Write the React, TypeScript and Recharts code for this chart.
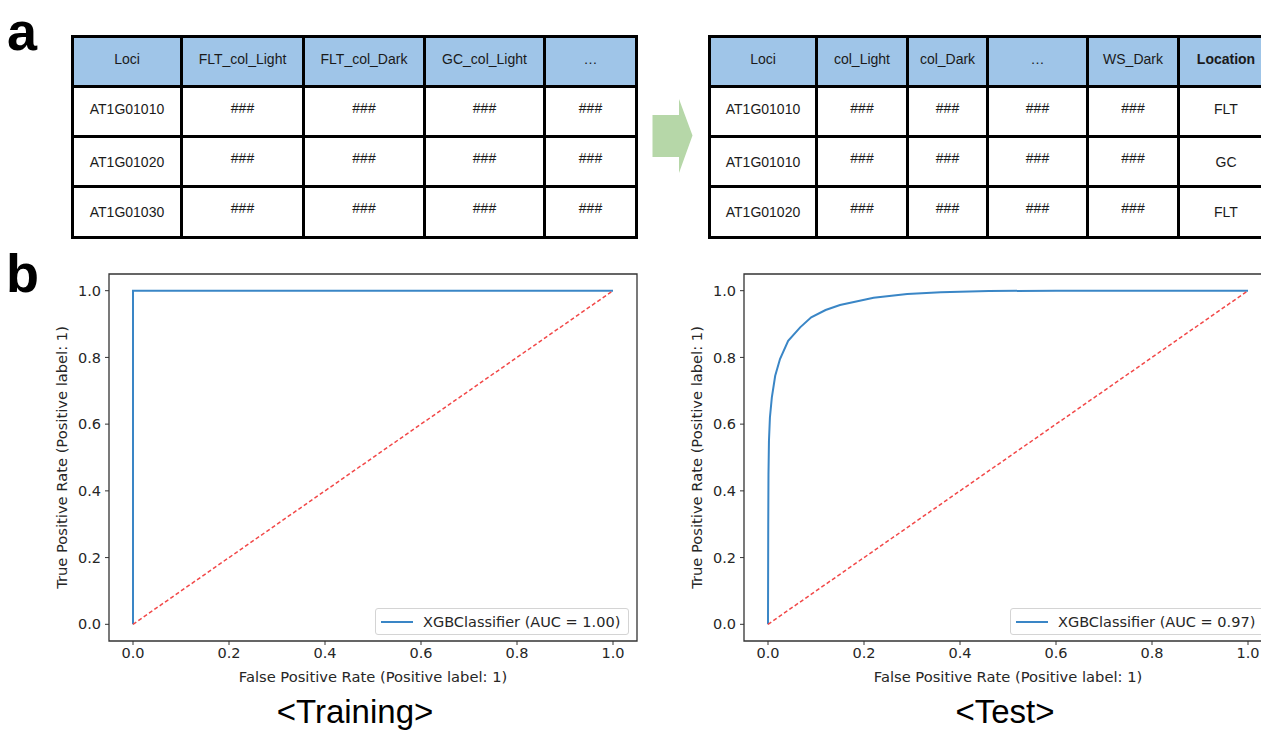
import React from "react";
import { LineChart, Line, XAxis, YAxis, ReferenceArea, Legend } from "recharts";

// ROC values
const ticks = [0, 0.2, 0.4, 0.6, 0.8, 1.0];
const trainFpr = [0, 0, 1];
const trainTpr = [0, 1, 1];
const testFpr = [0, 0.0005, 0.001, 0.002, 0.004, 0.008, 0.015, 0.025, 0.042, 0.067, 0.09, 0.12, 0.15, 0.22, 0.29, 0.36, 0.46, 0.6, 0.8, 1];
const testTpr = [0, 0.3, 0.45, 0.55, 0.62, 0.68, 0.745, 0.795, 0.85, 0.89, 0.92, 0.942, 0.957, 0.979, 0.99, 0.995, 0.999, 1, 1, 1];
const chanceFpr = [0, 1];
const chanceTpr = [0, 1];
const trainLegend = "XGBClassifier (AUC = 1.00)";
const testLegend = "XGBClassifier (AUC = 0.97)";
const xTitle = "False Positive Rate (Positive label: 1)";
const yTitle = "True Positive Rate (Positive label: 1)";

// table contents
const leftHeaders = ["Loci", "FLT_col_Light", "FLT_col_Dark", "GC_col_Light", "…"];
const leftLoci = ["AT1G01010", "AT1G01020", "AT1G01030"];
const rightHeaders = ["Loci", "col_Light", "col_Dark", "…", "WS_Dark", "Location"];
const rightLoci = ["AT1G01010", "AT1G01010", "AT1G01020"];
const rightLocation = ["FLT", "GC", "FLT"];

const BLUE = "#3a86c6";
const RED = "#f24848";
const AXIS = "#333";
const SANS = "'Liberation Sans', Arial, sans-serif";
const DJ = "'DejaVu Sans', sans-serif";

const toPts = (xs: number[], ys: number[]) => xs.map((x, i) => ({ x, y: ys[i] }));

function LegendBox({ label }: { label: string }) {
  return (
    <div
      style={{
        display: "flex",
        alignItems: "center",
        height: 27,
        width: 254,
        boxSizing: "border-box",
        paddingLeft: 5,
        border: "1px solid #d4d4d4",
        borderRadius: 3,
        background: "rgba(255,255,255,0.85)",
        fontFamily: DJ,
        fontSize: 14.5,
        color: "#262626",
        whiteSpace: "nowrap",
      }}
    >
      <svg width={32} height={4}>
        <line x1={0} y1={2} x2={32} y2={2} stroke={BLUE} strokeWidth={2} />
      </svg>
      <span style={{ marginLeft: 10 }}>{label}</span>
    </div>
  );
}

function RocChart({
  fpr,
  tpr,
  legend,
  marginLeft,
  marginRight,
  legendLeft,
}: {
  fpr: number[];
  tpr: number[];
  legend: string;
  marginLeft: number;
  marginRight: number;
  legendLeft: number;
}) {
  const tickStyle = { fontFamily: DJ, fontSize: 14.5, fill: "#262626" };
  const titleStyle = { fontFamily: DJ, fontSize: 14.7, fill: "#262626" };
  return (
    <LineChart
      width={660}
      height={450}
      margin={{ top: 24, right: marginRight, bottom: 9, left: marginLeft }}
    >
      <XAxis
        type="number"
        dataKey="x"
        domain={[-0.05, 1.05]}
        ticks={ticks}
        tickFormatter={(v: number) => v.toFixed(1)}
        tick={tickStyle}
        tickSize={4}
        tickMargin={3}
        axisLine={false}
        tickLine={{ stroke: AXIS }}
        height={50}
        label={{
          value: xTitle,
          position: "insideBottom",
          offset: 9,
          style: titleStyle,
        }}
      />
      <YAxis
        type="number"
        dataKey="y"
        domain={[-0.05, 1.05]}
        ticks={ticks}
        tickFormatter={(v: number) => v.toFixed(1)}
        tick={tickStyle}
        tickSize={4}
        tickMargin={4}
        axisLine={false}
        tickLine={{ stroke: AXIS }}
        width={69}
        label={{
          value: yTitle,
          angle: -90,
          position: "insideLeft",
          offset: 22,
          style: { ...titleStyle, textAnchor: "middle" },
        }}
      />
      <ReferenceArea x1={-0.05} x2={1.05} y1={-0.05} y2={1.05} fill="none" stroke={AXIS} strokeWidth={1.3} />
      <Line
        data={toPts(fpr, tpr)}
        dataKey="y"
        type="linear"
        stroke={BLUE}
        strokeWidth={2}
        dot={false}
        isAnimationActive={false}
      />
      <Line
        data={toPts(chanceFpr, chanceTpr)}
        dataKey="y"
        type="linear"
        stroke={RED}
        strokeWidth={1.5}
        strokeDasharray="4 2.5"
        dot={false}
        legendType="none"
        isAnimationActive={false}
      />
      <Legend
        layout="vertical"
        align="center"
        verticalAlign="middle"
        wrapperStyle={{ left: legendLeft, top: 358, width: 254 }}
        content={() => <LegendBox label={legend} />}
      />
    </LineChart>
  );
}

function Table({
  left,
  widths,
  heads,
  rows,
  boldLast,
}: {
  left: number;
  widths: number[];
  heads: string[];
  rows: string[][];
  boldLast?: boolean;
}) {
  const cell = (txt: string, key: string, head: boolean, bold: boolean, lift: number) => (
    <div
      key={key}
      style={{
        background: head ? "#9fc5e8" : "#fff",
        display: "flex",
        alignItems: "center",
        justifyContent: "center",
        fontFamily: SANS,
        fontSize: 14,
        fontWeight: bold ? 700 : 400,
        color: "#1a1a1a",
        whiteSpace: "nowrap",
        overflow: "hidden",
        paddingBottom: lift * 2,
        boxSizing: "border-box",
      }}
    >
      {txt}
    </div>
  );
  return (
    <div
      style={{
        position: "absolute",
        left,
        top: 35,
        display: "grid",
        gridTemplateColumns: widths.map((w) => w + "px").join(" "),
        gridTemplateRows: "47px 47px 47px 48px",
        gap: 3,
        padding: 3,
        background: "#000",
      }}
    >
      {heads.map((h, i) => cell(h, "h" + i, true, !!boldLast && i === heads.length - 1, 3))}
      {rows.map((r, ri) =>
        r.map((v, ci) =>
          cell(v, ri + "-" + ci, false, false, v === "###" ? 4 : ri === 0 ? 3 : 0)
        )
      )}
    </div>
  );
}

export default function App() {
  const leftRows = leftLoci.map((l) => [l, ...leftHeaders.slice(1).map(() => "###")]);
  const rightRows = rightLoci.map((l, i) => [l, "###", "###", "###", "###", rightLocation[i]]);
  return (
    <div
      style={{
        position: "absolute",
        left: 0,
        top: 0,
        width: 1261,
        height: 731,
        overflow: "hidden",
        background: "#fff",
      }}
    >
      <div style={{ position: "absolute", left: 7, top: 0, fontFamily: SANS, fontWeight: 700, fontSize: 54, lineHeight: "normal" }}>a</div>
      <div style={{ position: "absolute", left: 6, top: 243, fontFamily: SANS, fontWeight: 700, fontSize: 54, lineHeight: "60px" }}>b</div>

      <Table left={71} widths={[106, 119, 118, 117, 89]} heads={leftHeaders} rows={leftRows} />
      <Table left={708} widths={[104, 88, 77, 97, 88, 92]} heads={rightHeaders} rows={rightRows} boldLast />

      <svg style={{ position: "absolute", left: 650, top: 96 }} width={46} height={80}>
        <polygon points="2.5,19 29,19 29,3 42.5,39.5 29,77 29,61 2.5,61" fill="#b6d7a8" />
      </svg>

      <div style={{ position: "absolute", left: 0, top: 250 }}>
        <RocChart fpr={trainFpr} tpr={trainTpr} legend={trainLegend} marginLeft={40} marginRight={23} legendLeft={375} />
      </div>
      <div style={{ position: "absolute", left: 640, top: 250 }}>
        <RocChart fpr={testFpr} tpr={testTpr} legend={testLegend} marginLeft={35} marginRight={28} legendLeft={370} />
      </div>

      <div style={{ position: "absolute", left: 0, width: 710, top: 697, textAlign: "center", fontFamily: SANS, fontSize: 33, lineHeight: "30px" }}>
        {"<Training>"}
      </div>
      <div style={{ position: "absolute", left: 640, width: 730, top: 697, textAlign: "center", fontFamily: SANS, fontSize: 33, lineHeight: "30px" }}>
        {"<Test>"}
      </div>
    </div>
  );
}
